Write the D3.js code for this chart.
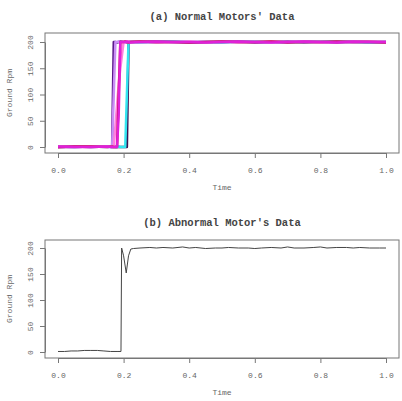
<!DOCTYPE html>
<html><head><meta charset="utf-8">
<script src="https://cdn.jsdelivr.net/npm/d3@7"></script>
<style>body{margin:0;background:#fff}</style>
</head><body>
<script>
// ---- data ----
const xTicks = [0.0, 0.2, 0.4, 0.6, 0.8, 1.0];
const xTickLabels = ["0.0", "0.2", "0.4", "0.6", "0.8", "1.0"];
const yTicks = [0, 50, 100, 150, 200];
const titleA = "(a) Normal Motors' Data";
const titleB = "(b) Abnormal Motor's Data";
const xTitle = "Time";
const yTitle = "Ground Rpm";

// time grid for normal motors
const timeA = [0, 0.05, 0.1, 0.15, 0.165, 0.17, 0.175, 0.18, 0.185, 0.19, 0.2, 0.205, 0.21, 0.215, 0.22,
  0.25, 0.3, 0.35, 0.4, 0.45, 0.5, 0.55, 0.6, 0.65, 0.7, 0.75, 0.8, 0.85, 0.9, 0.95, 1.0];
const motorDark  = [0,1,0,1,0,0,0,0,0,0,0,0,0,200,200,200,201,200,199,200,201,200,199,200,200,201,200,199,200,201,200];
const motorNavy  = [0,0,1,1,0,200,200,199,200,201,200,200,199,200,201,200,199,201,200,200,199,201,200,200,201,199,200,201,200,199,200];
const motorCyan  = [1,0,1,0,0,1,0,0,1,0,0,0,100,200,200,199,200,201,200,200,199,200,201,200,199,200,200,201,200,199,200];
const motorViolet= [1,1,0,1,0,100,200,200,201,200,200,199,200,200,201,200,200,199,200,200,201,200,200,199,200,201,200,200,199,200,200];
const motorPink  = [0,0,1,0,0,0,40,80,120,150,200,200,200,201,200,200,199,200,201,200,200,199,200,201,200,200,199,200,200,201,200];
const motorRed   = [0,1,1,0,1,0,0,0,100,200,200,201,200,199,200,201,200,200,199,200,201,200,200,201,199,200,200,201,200,200,199];
const motorMag   = [1,0,0,1,0,0,0,0,60,200,200,200,201,200,199,200,201,200,200,199,200,201,200,199,200,201,200,199,201,200,200];
const seriesA = [
  {name: "dark", values: motorDark, color: "#3a1050"},
  {name: "navy", values: motorNavy, color: "#5a1a8a"},
  {name: "cyan", values: motorCyan, color: "#33e5f0"},
  {name: "violet", values: motorViolet, color: "#c98cf5"},
  {name: "pink", values: motorPink, color: "#ff80e0"},
  {name: "red", values: motorRed, color: "#d0105a"},
  {name: "magenta", values: motorMag, color: "#e020d8"}
];

// abnormal motor
const timeB = [0, 0.02, 0.04, 0.06, 0.08, 0.1, 0.12, 0.14, 0.16, 0.18, 0.192, 0.194, 0.2, 0.208, 0.215, 0.222, 0.23,
  0.25, 0.28, 0.3, 0.32, 0.35, 0.38, 0.4, 0.42, 0.45, 0.48, 0.5, 0.52, 0.55, 0.58, 0.6, 0.62, 0.65, 0.68, 0.7,
  0.72, 0.75, 0.78, 0.8, 0.82, 0.85, 0.88, 0.9, 0.92, 0.95, 0.98, 1.0];
const valuesB = [1, 1, 2, 2, 3, 3, 3, 2, 1, 1, 1, 200, 185, 152, 185, 198, 199,
  200, 201, 200, 201, 200, 202, 200, 201, 199, 200, 200, 201, 200, 200, 199, 200, 201, 200, 202,
  200, 200, 201, 202, 200, 201, 201, 200, 201, 200, 200, 200];

// ---- layout ----
const W = 402, H = 401;
const svg = d3.select("body").append("svg").attr("width", W).attr("height", H);
const mono = "'Liberation Mono','DejaVu Sans Mono',monospace";

function panel(cfg) {
  const g = svg.append("g");
  const x = d3.scaleLinear().domain([0, 1]).range([58, 386]);
  const y = d3.scaleLinear().domain([0, 200]).range([cfg.y0, cfg.y200]);
  g.append("rect").attr("x", 45).attr("y", cfg.top).attr("width", 354).attr("height", cfg.bottom - cfg.top)
    .attr("fill", "none").attr("stroke", "#777").attr("stroke-width", 1);
  const line = d3.line().x(d => x(d[0])).y(d => y(d[1]));
  cfg.series.forEach(s => {
    g.append("path").datum(cfg.time.map((t, i) => [t, s.values[i]]))
      .attr("d", line).attr("fill", "none").attr("stroke", s.color)
      .attr("stroke-width", s.width).attr("stroke-linejoin", "round");
  });
  const ax = g.append("g").attr("transform", `translate(0,${cfg.bottom})`)
    .call(d3.axisBottom(x).tickValues(xTicks).tickFormat((d, i) => xTickLabels[i]).tickSize(5).tickSizeOuter(0).tickPadding(9));
  const ay = g.append("g").attr("transform", "translate(45,0)")
    .call(d3.axisLeft(y).tickValues(yTicks).tickSize(5).tickSizeOuter(0));
  [ax, ay].forEach(a => {
    a.selectAll("path,line").attr("stroke", "#777");
    a.selectAll("text").attr("font-family", mono).attr("font-size", 8).attr("fill", "#666");
  });
  ay.selectAll(".tick text").attr("text-anchor", "middle").attr("x", 0).attr("dy", 0)
    .attr("transform", "translate(-12,0) rotate(-90)");
  g.append("text").attr("x", 222).attr("y", cfg.titleY).attr("text-anchor", "middle")
    .attr("font-family", mono).attr("font-weight", "bold").attr("font-size", 10.5).attr("fill", "#444").text(cfg.title);
  g.append("text").attr("x", 222).attr("y", cfg.xTitleY).attr("text-anchor", "middle")
    .attr("font-family", mono).attr("font-size", 8).attr("fill", "#666").text(xTitle);
  g.append("text").attr("transform", `translate(12,${(cfg.top + cfg.bottom) / 2}) rotate(-90)`).attr("text-anchor", "middle")
    .attr("font-family", mono).attr("font-size", 8).attr("fill", "#666").text(yTitle);
}

panel({top: 33, bottom: 153, y0: 147, y200: 42, titleY: 20, xTitleY: 190, title: titleA, time: timeA,
  series: seriesA.map(s => ({values: s.values, color: s.color, width: 2.5}))});
panel({top: 240, bottom: 358, y0: 352, y200: 248, titleY: 226, xTitleY: 395, title: titleB, time: timeB,
  series: [{values: valuesB, color: "#444", width: 1}]});
</script>
</body></html>
